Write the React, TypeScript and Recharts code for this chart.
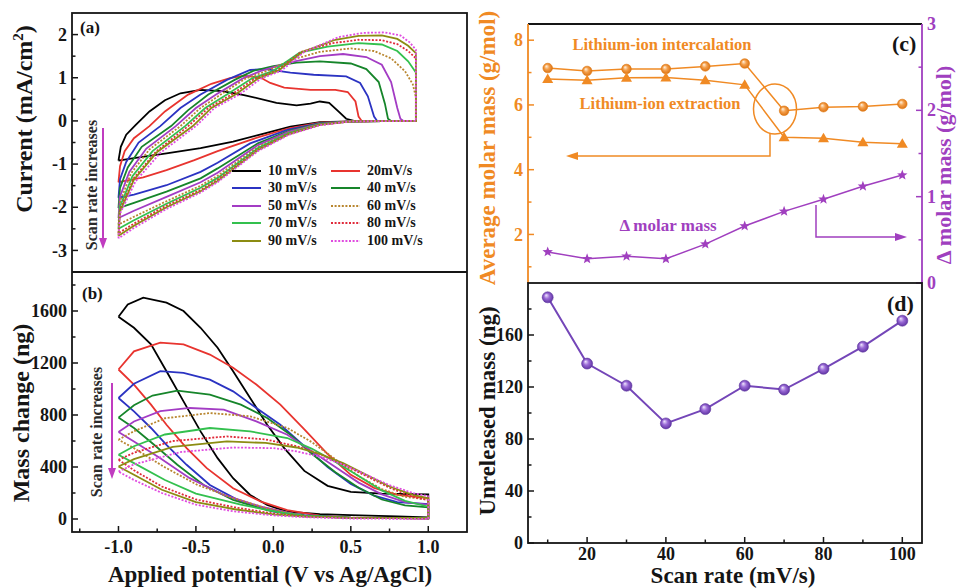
import React from "react";
import { ComposedChart, Legend, Line, LineChart, Scatter, ScatterChart, XAxis, YAxis } from "recharts";

const FONT = '"Liberation Serif", "Times New Roman", serif';
const INK = "#151515";
const ORANGE = "#F08A24";
const VIOLET = "#A03FBF";
const PLUM = "#7446B8";

type Pair = [number, number];

// (a) CV loops, [potential V, current mA/cm2], traced round each loop
const cv10: Pair[] = [[-1.0,-0.92],[-0.985,-0.6],[-0.95,-0.32],[-0.89,-0.1],[-0.8,0.22],[-0.7,0.48],[-0.6,0.64],[-0.47,0.72],[-0.33,0.69],[-0.19,0.6],[0.02,0.42],[0.15,0.36],[0.24,0.4],[0.3,0.45],[0.36,0.42],[0.42,0.22],[0.47,0.05],[0.52,0],[0.92,0],[0.5,-0.01],[0.3,-0.03],[0.11,-0.13],[-0.08,-0.31],[-0.26,-0.48],[-0.47,-0.63],[-0.69,-0.75],[-0.9,-0.86],[-1.0,-0.92]];
const cv20: Pair[] = [[-1.0,-1.42],[-0.99,-1.05],[-0.96,-0.7],[-0.9,-0.4],[-0.8,-0.12],[-0.7,0.22],[-0.55,0.61],[-0.4,0.86],[-0.28,0.99],[-0.19,1.05],[-0.08,1.0],[-0.02,0.88],[0.07,0.77],[0.24,0.72],[0.4,0.72],[0.48,0.67],[0.53,0.45],[0.55,0.1],[0.57,0],[0.92,0],[0.5,-0.01],[0.3,-0.04],[0.1,-0.17],[-0.1,-0.38],[-0.36,-0.7],[-0.51,-0.91],[-0.69,-1.14],[-0.84,-1.31],[-1.0,-1.42]];
const cv30: Pair[] = [[-1.0,-1.78],[-0.99,-1.35],[-0.95,-0.95],[-0.87,-0.5],[-0.73,-0.12],[-0.6,0.3],[-0.47,0.61],[-0.3,0.95],[-0.15,1.18],[-0.05,1.2],[0.11,1.12],[0.26,1.07],[0.47,1.03],[0.56,0.88],[0.61,0.57],[0.65,0.1],[0.67,0],[0.92,0],[0.5,-0.01],[0.3,-0.05],[0.09,-0.21],[-0.15,-0.52],[-0.36,-0.97],[-0.47,-1.18],[-0.69,-1.49],[-0.9,-1.71],[-1.0,-1.78]];
const cv40: Pair[] = [[-1.0,-2.02],[-0.99,-1.55],[-0.94,-1.08],[-0.85,-0.6],[-0.66,-0.12],[-0.55,0.25],[-0.42,0.61],[-0.25,0.95],[-0.13,1.16],[0.0,1.27],[0.15,1.35],[0.3,1.38],[0.5,1.33],[0.6,1.2],[0.68,0.9],[0.72,0.4],[0.74,0.05],[0.76,0],[0.92,0],[0.5,-0.01],[0.3,-0.06],[0.1,-0.23],[-0.1,-0.52],[-0.36,-1.1],[-0.47,-1.33],[-0.69,-1.64],[-0.9,-1.9],[-1.0,-2.02]];
const cv50: Pair[] = [[-1.0,-2.25],[-0.99,-1.75],[-0.93,-1.18],[-0.82,-0.64],[-0.63,-0.12],[-0.5,0.3],[-0.37,0.61],[-0.2,0.98],[-0.08,1.16],[0.1,1.35],[0.3,1.5],[0.45,1.55],[0.6,1.48],[0.7,1.3],[0.76,0.9],[0.8,0.3],[0.82,0.05],[0.84,0],[0.92,0],[0.5,-0.01],[0.3,-0.07],[0.1,-0.25],[-0.1,-0.56],[-0.36,-1.2],[-0.47,-1.42],[-0.69,-1.76],[-0.9,-2.08],[-1.0,-2.25]];
const cv60: Pair[] = [[-1.0,-2.4],[-0.99,-1.88],[-0.92,-1.22],[-0.8,-0.66],[-0.6,-0.12],[-0.47,0.3],[-0.34,0.61],[-0.18,0.98],[-0.04,1.16],[0.12,1.42],[0.3,1.6],[0.5,1.68],[0.65,1.62],[0.76,1.45],[0.85,1.15],[0.9,0.85],[0.92,0.55],[0.92,0],[0.5,-0.01],[0.3,-0.08],[0.1,-0.27],[-0.1,-0.6],[-0.36,-1.27],[-0.47,-1.5],[-0.69,-1.86],[-0.9,-2.22],[-1.0,-2.4]];
const cv70: Pair[] = [[-1.0,-2.5],[-0.99,-1.98],[-0.91,-1.28],[-0.78,-0.7],[-0.57,-0.12],[-0.44,0.3],[-0.3,0.61],[-0.14,0.98],[0.0,1.16],[0.17,1.58],[0.35,1.72],[0.55,1.8],[0.7,1.77],[0.8,1.62],[0.87,1.38],[0.92,1.12],[0.92,0],[0.5,-0.01],[0.3,-0.08],[0.1,-0.28],[-0.1,-0.63],[-0.36,-1.32],[-0.47,-1.55],[-0.69,-1.92],[-0.9,-2.3],[-1.0,-2.5]];
const cv80: Pair[] = [[-1.0,-2.6],[-0.99,-2.05],[-0.9,-1.32],[-0.76,-0.72],[-0.55,-0.12],[-0.42,0.3],[-0.27,0.61],[-0.12,0.98],[0.02,1.16],[0.18,1.6],[0.38,1.8],[0.55,1.88],[0.7,1.87],[0.8,1.78],[0.87,1.62],[0.92,1.45],[0.92,0],[0.5,-0.01],[0.3,-0.09],[0.1,-0.3],[-0.1,-0.66],[-0.36,-1.36],[-0.47,-1.6],[-0.69,-1.96],[-0.9,-2.38],[-1.0,-2.6]];
const cv90: Pair[] = [[-1.0,-2.66],[-0.99,-2.1],[-0.9,-1.36],[-0.75,-0.72],[-0.52,-0.12],[-0.4,0.3],[-0.245,0.61],[-0.1,0.98],[0.03,1.16],[0.19,1.6],[0.4,1.88],[0.55,1.97],[0.7,1.98],[0.8,1.9],[0.87,1.74],[0.92,1.57],[0.92,0],[0.5,-0.01],[0.3,-0.09],[0.1,-0.31],[-0.1,-0.68],[-0.36,-1.39],[-0.47,-1.63],[-0.69,-2.0],[-0.9,-2.43],[-1.0,-2.66]];
const cv100: Pair[] = [[-1.0,-2.72],[-0.99,-2.15],[-0.89,-1.4],[-0.73,-0.74],[-0.5,-0.12],[-0.38,0.3],[-0.22,0.61],[-0.08,0.98],[0.05,1.16],[0.2,1.6],[0.42,1.94],[0.58,2.04],[0.72,2.05],[0.82,1.98],[0.88,1.82],[0.92,1.65],[0.92,0],[0.5,-0.01],[0.3,-0.1],[0.1,-0.32],[-0.1,-0.7],[-0.36,-1.42],[-0.47,-1.66],[-0.69,-2.04],[-0.9,-2.48],[-1.0,-2.72]];

// (b) mass change loops, [potential V, mass ng]
const m10: Pair[] = [[-1.0,1556],[-0.94,1650],[-0.84,1703],[-0.69,1664],[-0.58,1600],[-0.47,1471],[-0.36,1317],[-0.26,1137],[-0.15,931],[-0.04,725],[0.07,545],[0.2,370],[0.35,255],[0.5,208],[0.7,195],[1.0,190],[1.0,13],[0.8,20],[0.5,30],[0.3,38],[0.09,56],[-0.04,108],[-0.15,185],[-0.26,314],[-0.36,468],[-0.47,674],[-0.58,905],[-0.69,1137],[-0.79,1343],[-0.9,1471],[-1.0,1556]];
const m20: Pair[] = [[-1.0,1150],[-0.9,1290],[-0.73,1356],[-0.58,1343],[-0.41,1265],[-0.26,1163],[-0.11,1034],[0.045,880],[0.2,690],[0.35,500],[0.5,340],[0.65,240],[0.8,185],[1.0,160],[1.0,5],[0.5,10],[0.3,25],[0.09,69],[-0.08,134],[-0.26,237],[-0.43,391],[-0.56,545],[-0.69,725],[-0.79,880],[-0.9,1034],[-1.0,1150]];
const m30: Pair[] = [[-1.0,931],[-0.9,1040],[-0.73,1137],[-0.58,1124],[-0.41,1072],[-0.26,982],[-0.11,854],[0.045,725],[0.2,560],[0.35,400],[0.5,270],[0.65,180],[0.8,130],[1.0,115],[1.0,5],[0.5,10],[0.2,30],[0.0,56],[-0.21,134],[-0.41,262],[-0.56,417],[-0.69,571],[-0.79,700],[-0.9,828],[-1.0,931]];
const m40: Pair[] = [[-1.0,780],[-0.9,875],[-0.78,950],[-0.62,988],[-0.41,957],[-0.21,880],[-0.04,777],[0.11,648],[0.25,500],[0.4,360],[0.55,240],[0.7,150],[0.85,105],[1.0,90],[1.0,5],[0.5,8],[0.2,25],[-0.04,69],[-0.26,147],[-0.45,262],[-0.62,417],[-0.77,571],[-0.9,700],[-1.0,780]];
const m50: Pair[] = [[-1.0,670],[-0.9,750],[-0.73,830],[-0.54,854],[-0.32,841],[-0.11,751],[0.09,648],[0.25,520],[0.4,400],[0.55,280],[0.7,190],[0.85,130],[1.0,110],[1.0,5],[0.5,8],[0.2,22],[-0.08,95],[-0.32,185],[-0.54,314],[-0.73,468],[-0.9,597],[-1.0,670]];
const m60: Pair[] = [[-1.0,610],[-0.9,675],[-0.7,775],[-0.41,815],[-0.15,790],[0.09,700],[0.25,590],[0.4,460],[0.55,330],[0.7,230],[0.85,170],[1.0,150],[1.0,8],[0.5,10],[0.2,22],[-0.04,82],[-0.26,160],[-0.49,262],[-0.71,404],[-0.9,545],[-1.0,610]];
const m70: Pair[] = [[-1.0,494],[-0.9,560],[-0.7,650],[-0.41,700],[-0.15,674],[0.09,623],[0.25,540],[0.4,440],[0.55,330],[0.7,220],[0.85,140],[1.0,95],[1.0,8],[0.5,10],[0.2,25],[0.045,50],[-0.21,110],[-0.5,195],[-0.7,300],[-0.9,430],[-1.0,494]];
const m80: Pair[] = [[-1.0,455],[-0.9,510],[-0.65,600],[-0.3,635],[-0.05,612],[0.15,560],[0.3,500],[0.45,420],[0.6,330],[0.75,240],[0.9,170],[1.0,145],[1.0,5],[0.5,8],[0.2,20],[0.0,42],[-0.25,90],[-0.5,150],[-0.72,250],[-0.9,375],[-1.0,455]];
const m90: Pair[] = [[-1.0,404],[-0.9,460],[-0.65,555],[-0.3,597],[-0.05,585],[0.15,550],[0.3,500],[0.45,430],[0.6,340],[0.75,250],[0.9,185],[1.0,160],[1.0,5],[0.5,8],[0.2,18],[0.0,36],[-0.25,75],[-0.5,130],[-0.72,225],[-0.9,340],[-1.0,404]];
const m100: Pair[] = [[-1.0,365],[-0.9,420],[-0.6,515],[-0.26,550],[0.0,545],[0.15,520],[0.3,480],[0.45,420],[0.6,340],[0.75,260],[0.9,200],[1.0,175],[1.0,0],[0.5,4],[0.2,14],[0.0,28],[-0.25,58],[-0.5,110],[-0.72,200],[-0.9,300],[-1.0,365]];

const rateLabels = ["10 mV/s", "20mV/s", "30 mV/s", "40 mV/s", "50 mV/s", "60 mV/s", "70 mV/s", "80 mV/s", "90 mV/s", "100 mV/s"];
const rateColors = ["#000000", "#E8342F", "#2B33C2", "#16852A", "#A33CC4", "#B8862F", "#33C04E", "#E02A3A", "#8C8C12", "#E04CE0"];
const rateDotted = [false, false, false, false, false, true, false, true, false, true];
const cvLoops = [cv10, cv20, cv30, cv40, cv50, cv60, cv70, cv80, cv90, cv100];
const massLoops = [m10, m20, m30, m40, m50, m60, m70, m80, m90, m100];

// (c) and (d)
const scanRates = [10, 20, 30, 40, 50, 60, 70, 80, 90, 100];
const intercalation = [7.14, 7.05, 7.11, 7.11, 7.19, 7.28, 5.82, 5.93, 5.95, 6.03];
const extraction = [6.8, 6.76, 6.84, 6.85, 6.76, 6.62, 5.0, 4.97, 4.85, 4.8];
const deltaMolar = [0.36, 0.28, 0.31, 0.28, 0.45, 0.66, 0.83, 0.97, 1.12, 1.25];
const unreleased = [189, 138, 121, 92, 103, 121, 118, 134, 151, 171];

const molarRows = scanRates.map((rate, i) => ({ rate, inter: intercalation[i], extr: extraction[i], delta: deltaMolar[i] }));
const unreleasedRows = scanRates.map((rate, i) => ({ rate, mass: unreleased[i] }));

const toPts = (loop: Pair[]) => loop.map(([v, y]) => ({ v, y }));
const dash = (i: number) => (rateDotted[i] ? "2 1.6" : undefined);
const noDot = () => <g />;

// inward tick marks, labels only on major ticks
function makeTick(side: "left" | "right" | "bottom", majors: number[], fmt: (v: number) => string, color: string, labelDy = 20) {
  return function TickMark(props: any) {
    const { x, y, payload } = props;
    const v = Number(payload.value);
    const major = majors.some((m) => Math.abs(m - v) < 1e-6);
    const len = major ? 6 : 3.5;
    const txt = { fill: color, fontFamily: FONT, fontWeight: 700, fontSize: 18 } as const;
    if (side === "bottom") {
      return (
        <g>
          <line x1={x} y1={y} x2={x} y2={y - len} stroke={color} strokeWidth={1.5} />
          {major && <text x={x} y={y + labelDy} textAnchor="middle" {...txt}>{fmt(v)}</text>}
        </g>
      );
    }
    const dir = side === "left" ? 1 : -1;
    return (
      <g>
        <line x1={x} y1={y} x2={x + dir * len} y2={y} stroke={color} strokeWidth={1.5} />
        {major && (
          <text x={x - dir * 5} y={y} dy="0.34em" textAnchor={side === "left" ? "end" : "start"} {...txt}>
            {fmt(v)}
          </text>
        )}
      </g>
    );
  };
}

function RateLegend() {
  return (
    <div style={{ display: "grid", gridTemplateColumns: "99px 110px", fontFamily: FONT, fontWeight: 700, fontSize: 14, color: INK }}>
      {rateLabels.map((label, i) => (
        <div key={label} style={{ display: "flex", alignItems: "center", height: 17.5, whiteSpace: "nowrap" }}>
          <svg width={30} height={6}>
            <line x1={0} y1={3} x2={29} y2={3} stroke={rateColors[i]} strokeWidth={2} strokeDasharray={dash(i)} />
          </svg>
          <span style={{ marginLeft: 6 }}>{label}</span>
        </div>
      ))}
    </div>
  );
}

function PanelA() {
  return (
    <ScatterChart width={480} height={272} margin={{ top: 13, right: 13, bottom: 0, left: 12 }}>
      <XAxis type="number" dataKey="v" domain={[-1.3, 1.25]} hide allowDataOverflow />
      <YAxis
        type="number"
        dataKey="y"
        domain={[-3.5, 2.5]}
        allowDataOverflow
        width={60}
        ticks={[-3, -2.5, -2, -1.5, -1, -0.5, 0, 0.5, 1, 1.5, 2]}
        interval={0}
        axisLine={false}
        tickLine={false}
        tickSize={0}
        tickMargin={0}
        tick={makeTick("left", [-3, -2, -1, 0, 1, 2], (v) => String(v), INK)}
      />
      {cvLoops.map((loop, i) => (
        <Scatter
          key={rateLabels[i]}
          name={rateLabels[i]}
          data={toPts(loop)}
          fill={rateColors[i]}
          line={{ stroke: rateColors[i], strokeWidth: 1.8, strokeDasharray: dash(i) }}
          shape={noDot}
          isAnimationActive={false}
        />
      ))}
      <Legend verticalAlign="middle" align="center" content={<RateLegend />} wrapperStyle={{ left: 232, top: 162, width: 220 }} />
    </ScatterChart>
  );
}

function PanelB() {
  return (
    <ScatterChart width={480} height={316} margin={{ top: 0, right: 13, bottom: 0, left: 12 }}>
      <XAxis
        type="number"
        dataKey="v"
        domain={[-1.3, 1.25]}
        allowDataOverflow
        height={56}
        ticks={[-1.25, -1, -0.75, -0.5, -0.25, 0, 0.25, 0.5, 0.75, 1]}
        interval={0}
        axisLine={false}
        tickLine={false}
        tickSize={0}
        tickMargin={0}
        tick={makeTick("bottom", [-1, -0.5, 0, 0.5, 1], (v) => v.toFixed(1), INK, 21)}
      />
      <YAxis
        type="number"
        dataKey="y"
        domain={[-100, 1900]}
        allowDataOverflow
        width={60}
        ticks={[0, 200, 400, 600, 800, 1000, 1200, 1400, 1600, 1800]}
        interval={0}
        axisLine={false}
        tickLine={false}
        tickSize={0}
        tickMargin={0}
        tick={makeTick("left", [0, 400, 800, 1200, 1600], (v) => String(v), INK)}
      />
      {massLoops.map((loop, i) => (
        <Scatter
          key={rateLabels[i]}
          name={rateLabels[i]}
          data={toPts(loop)}
          fill={rateColors[i]}
          line={{ stroke: rateColors[i], strokeWidth: 1.8, strokeDasharray: dash(i) }}
          shape={noDot}
          isAnimationActive={false}
        />
      ))}
    </ScatterChart>
  );
}

function starPath(cx: number, cy: number, R: number, r: number) {
  let d = "";
  for (let k = 0; k < 10; k++) {
    const a = -Math.PI / 2 + (k * Math.PI) / 5;
    const rad = k % 2 === 0 ? R : r;
    d += `${k === 0 ? "M" : "L"}${cx + rad * Math.cos(a)},${cy + rad * Math.sin(a)}`;
  }
  return d + "Z";
}

function PanelC() {
  return (
    <ComposedChart width={478} height={300} data={molarRows} margin={{ top: 24, right: 0, bottom: 17, left: 0 }}>
      <XAxis type="number" dataKey="rate" domain={[5, 105]} hide />
      <YAxis
        yAxisId="avg"
        orientation="left"
        domain={[0.5, 8.5]}
        allowDataOverflow
        width={48}
        ticks={[1, 2, 3, 4, 5, 6, 7, 8]}
        interval={0}
        axisLine={false}
        tickLine={false}
        tickSize={0}
        tickMargin={0}
        tick={makeTick("left", [2, 4, 6, 8], (v) => String(v), ORANGE)}
      />
      <YAxis
        yAxisId="delta"
        orientation="right"
        domain={[0, 3]}
        allowDataOverflow
        width={36}
        ticks={[0, 0.5, 1, 1.5, 2, 2.5, 3]}
        interval={0}
        axisLine={false}
        tickLine={false}
        tickSize={0}
        tickMargin={0}
        tick={makeTick("right", [0, 1, 2, 3], (v) => String(v), VIOLET)}
      />
      <Line
        yAxisId="avg"
        dataKey="inter"
        stroke={ORANGE}
        strokeWidth={1.5}
        isAnimationActive={false}
        dot={(p: any) => <circle key={`in${p.index}`} cx={p.cx} cy={p.cy} r={4.8} fill="url(#ballOrange)" stroke="#E07A10" strokeWidth={0.6} />}
      />
      <Line
        yAxisId="avg"
        dataKey="extr"
        stroke={ORANGE}
        strokeWidth={1.5}
        isAnimationActive={false}
        dot={(p: any) => (
          <path key={`ex${p.index}`} d={`M${p.cx},${p.cy - 5.5}L${p.cx + 5.5},${p.cy + 4}L${p.cx - 5.5},${p.cy + 4}Z`} fill={ORANGE} />
        )}
      />
      <Line
        yAxisId="delta"
        dataKey="delta"
        stroke={VIOLET}
        strokeWidth={1.5}
        isAnimationActive={false}
        dot={(p: any) => <path key={`dl${p.index}`} d={starPath(p.cx, p.cy, 5.5, 2.3)} fill={VIOLET} />}
      />
    </ComposedChart>
  );
}

function PanelD() {
  return (
    <LineChart width={478} height={305} data={unreleasedRows} margin={{ top: 0, right: 36, bottom: 0, left: 0 }}>
      <XAxis
        type="number"
        dataKey="rate"
        domain={[5, 105]}
        height={45}
        ticks={[10, 20, 30, 40, 50, 60, 70, 80, 90, 100]}
        interval={0}
        axisLine={false}
        tickLine={false}
        tickSize={0}
        tickMargin={0}
        tick={makeTick("bottom", [20, 40, 60, 80, 100], (v) => String(v), INK, 17)}
      />
      <YAxis
        domain={[0, 200]}
        allowDataOverflow
        width={48}
        ticks={[0, 20, 40, 60, 80, 100, 120, 140, 160, 180]}
        interval={0}
        axisLine={false}
        tickLine={false}
        tickSize={0}
        tickMargin={0}
        tick={makeTick("left", [0, 40, 80, 120, 160], (v) => String(v), INK)}
      />
      <Line
        dataKey="mass"
        stroke={PLUM}
        strokeWidth={2}
        isAnimationActive={false}
        dot={(p: any) => <circle key={`um${p.index}`} cx={p.cx} cy={p.cy} r={5.5} fill="url(#ballViolet)" stroke="#5E36A0" strokeWidth={0.6} />}
      />
    </LineChart>
  );
}

function Overlay() {
  const vTitle = { fontFamily: FONT, fontWeight: 700, fontSize: 24, fill: INK } as const;
  const hTitle = { fontFamily: FONT, fontWeight: 700, fontSize: 23, fill: INK } as const;
  const note = { fontFamily: FONT, fontWeight: 700, fontSize: 16.5 } as const;
  return (
    <svg width={958} height={588} style={{ position: "absolute", left: 0, top: 0, pointerEvents: "none" }}>
      {/* frames */}
      <rect x={72} y={13} width={395} height={519} fill="none" stroke={INK} strokeWidth={1.8} />
      <line x1={72} y1={272} x2={467} y2={272} stroke={INK} strokeWidth={1.8} />
      <line x1={528} y1={24} x2={922} y2={24} stroke={INK} strokeWidth={1.8} />
      <line x1={528} y1={24} x2={528} y2={283} stroke={ORANGE} strokeWidth={1.8} />
      <line x1={922} y1={24} x2={922} y2={283} stroke={VIOLET} strokeWidth={1.8} />
      <rect x={528} y={283} width={394} height={260} fill="none" stroke={INK} strokeWidth={1.8} />

      {/* axis titles */}
      <text transform="translate(32,119) rotate(-90)" textAnchor="middle" {...vTitle}>
        Current (mA/cm<tspan dy={-9} fontSize={15}>2</tspan>
        <tspan dy={9}>)</tspan>
      </text>
      <text transform="translate(29,413) rotate(-90)" textAnchor="middle" {...vTitle}>Mass change (ng)</text>
      <text x={270} y={582} textAnchor="middle" {...hTitle}>Applied potential (V vs Ag/AgCl)</text>
      <text transform="translate(495,148) rotate(-90)" textAnchor="middle" {...vTitle} fontSize={23} fill={ORANGE}>Average molar mass (g/mol)</text>
      <text transform="translate(951,165) rotate(-90)" textAnchor="middle" {...vTitle} fontSize={22} fill={VIOLET}>Δ molar mass (g/mol)</text>
      <text transform="translate(495,411) rotate(-90)" textAnchor="middle" {...vTitle} fontSize={23}>Unreleased mass (ng)</text>
      <text x={733} y={583} textAnchor="middle" {...hTitle}>Scan rate (mV/s)</text>

      {/* panel labels */}
      <text x={80} y={33} fontFamily={FONT} fontWeight={700} fontSize={17} fill={INK}>(a)</text>
      <text x={82} y={299} fontFamily={FONT} fontWeight={700} fontSize={17} fill={INK}>(b)</text>
      <text x={892} y={51} fontFamily={FONT} fontWeight={700} fontSize={22} fill={INK}>(c)</text>
      <text x={887} y={311} fontFamily={FONT} fontWeight={700} fontSize={22} fill={INK}>(d)</text>

      {/* scan-rate arrows */}
      <text transform="translate(97,185) rotate(-90)" textAnchor="middle" fontFamily={FONT} fontWeight={700} fontSize={16} fill="#2a2a2a">Scan rate increases</text>
      <line x1={103} y1={128} x2={103} y2={240} stroke="#C03CC0" strokeWidth={2} />
      <path d="M103,249L99,238L107,238Z" fill="#C03CC0" />
      <text transform="translate(102,432) rotate(-90)" textAnchor="middle" fontFamily={FONT} fontWeight={700} fontSize={16} fill="#2a2a2a">Scan rate increases</text>
      <line x1={112} y1={383} x2={112} y2={470} stroke="#C03CC0" strokeWidth={2} />
      <path d="M112,479L108,468L116,468Z" fill="#C03CC0" />

      {/* (c) annotations */}
      <text x={662} y={50} textAnchor="middle" {...note} fill={ORANGE}>Lithium-ion intercalation</text>
      <text x={660} y={109} textAnchor="middle" {...note} fill={ORANGE}>Lithium-ion extraction</text>
      <text x={668} y={231} textAnchor="middle" {...note} fontSize={17} fill={VIOLET}>Δ molar mass</text>
      <ellipse cx={775} cy={109} rx={21.5} ry={25} fill="none" stroke={ORANGE} strokeWidth={1.5} />
      <polyline points="770,133 770,156 576,156" fill="none" stroke={ORANGE} strokeWidth={1.5} />
      <path d="M566,156L578,152L578,160Z" fill={ORANGE} />
      <polyline points="816,205 816,237 898,237" fill="none" stroke={VIOLET} strokeWidth={1.5} />
      <path d="M907,237L895,233L895,241Z" fill={VIOLET} />
    </svg>
  );
}

export default function App() {
  return (
    <div style={{ position: "absolute", left: 0, top: 0, width: 958, height: 588, background: "#fff", overflow: "hidden" }}>
      <svg width={0} height={0} style={{ position: "absolute" }}>
        <defs>
          <radialGradient id="ballOrange" cx="50%" cy="50%" r="55%" fx="35%" fy="30%">
            <stop offset="0%" stopColor="#FFF3E2" />
            <stop offset="45%" stopColor="#F4A04C" />
            <stop offset="100%" stopColor="#D86C0C" />
          </radialGradient>
          <radialGradient id="ballViolet" cx="50%" cy="50%" r="55%" fx="35%" fy="30%">
            <stop offset="0%" stopColor="#F1E8FF" />
            <stop offset="45%" stopColor="#9A6AD6" />
            <stop offset="100%" stopColor="#5A2E9E" />
          </radialGradient>
        </defs>
      </svg>
      <div style={{ position: "absolute", left: 0, top: 0 }}>
        <PanelA />
      </div>
      <div style={{ position: "absolute", left: 0, top: 272 }}>
        <PanelB />
      </div>
      <div style={{ position: "absolute", left: 480, top: 0 }}>
        <PanelC />
      </div>
      <div style={{ position: "absolute", left: 480, top: 283 }}>
        <PanelD />
      </div>
      <Overlay />
    </div>
  );
}
